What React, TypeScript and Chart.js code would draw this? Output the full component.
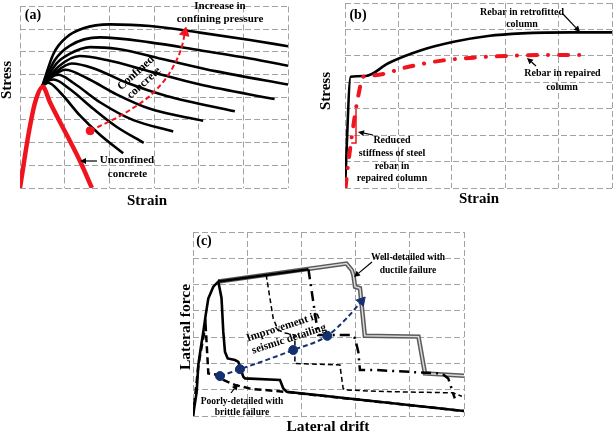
import React, { useEffect, useRef } from "react";
import { Chart, registerables } from "chart.js";
Chart.register(...registerables);

type Pt = [number, number];

// ---------- Panel (a): concrete stress-strain (grid units) ----------
const aUnconfined: Pt[] = [[0, 0], [0.19, 2.36], [0.34, 3.78], [0.51, 4.46], [0.67, 3.78], [1.34, 1.2], [1.61, 0]];
const aConfined1: Pt[] = [[0.5, 4.5], [0.75, 5.92], [1.04, 6.64], [1.42, 7.04], [2.01, 7.21], [2.91, 7.14], [4.03, 6.85], [5.15, 6.52], [6, 6.25]];
const aConfined2: Pt[] = [[0.5, 4.5], [0.78, 5.64], [1.12, 6.28], [1.79, 6.64], [2.91, 6.42], [4.03, 6.07], [5.15, 5.71], [6, 5.39]];
const aConfined3: Pt[] = [[0.5, 4.5], [0.82, 5.49], [1.12, 5.92], [1.57, 6.21], [2.16, 6.14], [3.28, 5.64], [4.4, 5.14], [6, 4.56]];
const aConfined4: Pt[] = [[0.5, 4.5], [0.86, 5.35], [1.34, 5.82], [1.94, 5.64], [2.91, 5.14], [4.03, 4.56], [5.7, 3.92]];
const aConfined5: Pt[] = [[0.5, 4.5], [0.82, 5.14], [1.16, 5.49], [1.64, 5.28], [2.39, 4.64], [3.28, 4.06], [4.81, 3.38]];
const aConfined6: Pt[] = [[0.5, 4.5], [0.78, 4.99], [1.01, 5.21], [1.49, 4.85], [2.16, 4.13], [2.91, 3.49], [4.1, 2.96]];
const aConfined7: Pt[] = [[0.5, 4.5], [0.66, 4.85], [0.86, 4.99], [1.19, 4.64], [1.79, 3.78], [2.54, 2.99], [3.43, 2.49]];
const aConfined8: Pt[] = [[0.5, 4.5], [0.6, 4.7], [0.75, 4.78], [1.12, 4.35], [1.64, 3.49], [2.16, 2.7], [2.77, 1.99]];
const aConfined9: Pt[] = [[0.5, 4.5], [0.63, 4.64], [0.9, 4.21], [1.34, 3.2], [1.79, 2.35], [2.31, 1.53]];
const aArrow: Pt[] = [[1.57, 2.52], [2.39, 3.35], [3.06, 4.35], [3.43, 5.35], [3.64, 6.35], [3.69, 6.85]];

// ---------- Panel (b): rebar stress-strain ----------
const bRetrofitted: Pt[] = [[0, 0], [0.106, 4.21], [0.39, 4.24], [0.81, 4.72], [1.44, 5.22], [2.06, 5.54], [2.68, 5.75], [3.31, 5.85], [4.25, 5.89], [5, 5.89]];
const bRepaired: Pt[] = [[0.01, 0], [0.05, 0.75], [0.206, 3.02], [0.26, 3.6], [0.33, 4.2], [0.56, 4.27], [1.19, 4.59], [1.81, 4.82], [2.47, 4.94], [3.06, 5.0], [3.75, 5.03], [4.4, 5.03]];
const bSlope: Pt[] = [[0.116, 1.7], [0.206, 1.7], [0.206, 3.0]];

// ---------- Panel (c): lateral force vs drift ----------
const cBrittleSolid: Pt[] = [[0, 0], [0.068, 0.92], [0.098, 1.94], [0.142, 2.57], [0.19, 3.2], [0.234, 3.84], [0.282, 4.47], [0.375, 4.92], [0.467, 5.11], [0.526, 4.49], [0.559, 3.2], [0.59, 2.44], [0.64, 2.19], [0.775, 2.13], [0.836, 2.06], [0.928, 1.49], [0.96, 1.43], [1.605, 1.37], [1.666, 1.05], [1.73, 0.92], [5.0, 0.19]];
const cBrittleDashed: Pt[] = [[0, 0], [0.1, 1.94], [0.2, 3.1], [0.234, 3.4], [0.283, 1.62], [0.467, 1.56], [0.56, 1.37], [0.775, 1.18], [1.083, 1.03], [1.7, 0.92], [5.0, 0.19]];
const cDashDot: Pt[] = [[0.467, 5.12], [2.13, 5.58], [2.31, 3.08], [2.93, 3.08], [2.99, 2.95], [3.05, 2.44], [3.08, 1.75], [3.36, 1.75], [4.16, 1.66], [4.59, 1.62], [4.71, 1.43], [4.83, 0.67]];
const cThinDashed: Pt[] = [[1.35, 5.38], [1.42, 4.47], [1.48, 3.71], [1.57, 3.27], [1.7, 3.16], [1.88, 3.08], [1.88, 2.0], [2.71, 1.94], [2.77, 1.05], [2.8, 0.99], [3.54, 0.93], [4.8, 0.88], [4.96, 0.75]];
const cDuctile: Pt[] = [[0.467, 5.12], [2.83, 5.8], [2.93, 5.55], [2.96, 5.36], [2.99, 4.92], [3.08, 4.86], [3.17, 3.05], [4.16, 3.02], [4.28, 1.62], [5.0, 1.53]];
const cImprovement: Pt[] = [[0.498, 1.52], [0.867, 1.78], [1.85, 2.51], [2.478, 3.05], [2.83, 3.71], [3.11, 4.37]];

// ---------- styles ----------
const RED = "#f0141e";
const NAVY = "#14306e";
const GRID = "#a3a3a3";
const FONT = '"Liberation Serif", "Times New Roman", serif';

type Txt = { t: string; x: number; y: number; s: number; r?: number };
type Arr = { x1: number; y1: number; x2: number; y2: number };

const aTexts: Txt[] = [
  { t: "(a)", x: 33, y: 15, s: 14 },
  { t: "Increase in", x: 220, y: 6, s: 11 },
  { t: "confining pressure", x: 220, y: 19.5, s: 11 },
  { t: "Confined", x: 136, y: 73, s: 11.5, r: -42 },
  { t: "concrete", x: 144, y: 83, s: 11.5, r: -42 },
  { t: "Unconfined", x: 127, y: 160, s: 11 },
  { t: "concrete", x: 127.5, y: 174, s: 11 },
  { t: "Stress", x: 7, y: 80, s: 15, r: -90 },
  { t: "Strain", x: 147, y: 201, s: 15 },
];
const aArrows: Arr[] = [{ x1: 97, y1: 161, x2: 80, y2: 161 }];

const bTexts: Txt[] = [
  { t: "(b)", x: 358, y: 15, s: 14 },
  { t: "Rebar in retrofitted", x: 522, y: 12, s: 10 },
  { t: "column", x: 522, y: 24, s: 10 },
  { t: "Rebar in repaired", x: 562.5, y: 73, s: 10 },
  { t: "column", x: 562, y: 87, s: 10 },
  { t: "Reduced", x: 392, y: 140, s: 10 },
  { t: "stiffness of steel", x: 392, y: 153.5, s: 10 },
  { t: "rebar in", x: 392, y: 166, s: 10 },
  { t: "repaired column", x: 392, y: 178.5, s: 10 },
  { t: "Stress", x: 326, y: 91, s: 15, r: -90 },
  { t: "Strain", x: 479, y: 199, s: 15 },
];
const bArrows: Arr[] = [
  { x1: 562, y1: 13, x2: 580, y2: 32 },
  { x1: 536, y1: 66, x2: 527, y2: 58 },
  { x1: 373, y1: 135, x2: 358, y2: 132 },
];

const cTexts: Txt[] = [
  { t: "(c)", x: 204, y: 241.5, s: 14 },
  { t: "Well-detailed with", x: 408, y: 258, s: 9.5 },
  { t: "ductile failure", x: 408, y: 271, s: 9.5 },
  { t: "Improvement in", x: 283, y: 327, s: 11, r: -18 },
  { t: "seismic detailing", x: 289, y: 339, s: 11, r: -18 },
  { t: "Poorly-detailed with", x: 242, y: 402, s: 9.5 },
  { t: "brittle failure", x: 242, y: 413, s: 9.5 },
  { t: "Lateral force", x: 186, y: 327, s: 15.5, r: -90 },
  { t: "Lateral drift", x: 328, y: 427, s: 15.5 },
];
const cArrows: Arr[] = [
  { x1: 372, y1: 262, x2: 354, y2: 277 },
  { x1: 231, y1: 393, x2: 238, y2: 384 },
];

const mk = (pts: Pt[]) => pts.map(([x, y]) => ({ x, y }));

function line(pts: Pt[], color: string, width: number, extra: any = {}) {
  return {
    data: mk(pts),
    borderColor: color,
    backgroundColor: color,
    borderWidth: width,
    pointRadius: 0,
    fill: false,
    tension: 0,
    ...extra,
  };
}

function arrowLine(pts: Pt[], color: string, dotR: number, nDots: number, rot: number, dash: number[]) {
  const last = pts.length - 1;
  return line(pts, color, 2, {
    borderDash: dash,
    cubicInterpolationMode: "monotone",
    pointRadius: (c: any) => (c.dataIndex === last ? 5.5 : c.dataIndex < nDots ? dotR : 0),
    pointStyle: (c: any) => (c.dataIndex === last ? "triangle" : "circle"),
    pointRotation: rot,
    pointBackgroundColor: color,
    pointBorderColor: color,
    pointBorderWidth: 1,
  });
}

function annPlugin(texts: Txt[], arrows: Arr[], ox: number, oy: number) {
  return {
    id: "ann",
    afterDraw(chart: any) {
      const ctx: CanvasRenderingContext2D = chart.ctx;
      ctx.save();
      ctx.fillStyle = "#000";
      ctx.strokeStyle = "#000";
      for (const a of texts) {
        ctx.save();
        ctx.translate(a.x - ox, a.y - oy);
        if (a.r) ctx.rotate((a.r * Math.PI) / 180);
        ctx.font = `bold ${a.s}px ${FONT}`;
        ctx.textAlign = "center";
        ctx.textBaseline = "middle";
        ctx.fillText(a.t, 0, 0);
        ctx.restore();
      }
      for (const a of arrows) {
        const x1 = a.x1 - ox, y1 = a.y1 - oy, x2 = a.x2 - ox, y2 = a.y2 - oy;
        const ang = Math.atan2(y2 - y1, x2 - x1);
        const hl = 6, hw = 3;
        const bx = x2 - Math.cos(ang) * hl, by = y2 - Math.sin(ang) * hl;
        ctx.lineWidth = 1.2;
        ctx.beginPath();
        ctx.moveTo(x1, y1);
        ctx.lineTo(bx, by);
        ctx.stroke();
        ctx.beginPath();
        ctx.moveTo(x2, y2);
        ctx.lineTo(bx - Math.sin(ang) * hw, by + Math.cos(ang) * hw);
        ctx.lineTo(bx + Math.sin(ang) * hw, by - Math.cos(ang) * hw);
        ctx.closePath();
        ctx.fill();
      }
      ctx.restore();
    },
  };
}

type PanelProps = {
  left: number; top: number; width: number; height: number;
  padding: { left: number; right: number; top: number; bottom: number };
  xMax: number; yMax: number; datasets: any[]; texts: Txt[]; arrows: Arr[];
};

function Panel(p: PanelProps) {
  const ref = useRef<HTMLCanvasElement>(null);
  useEffect(() => {
    const axis = (max: number) => ({
      type: "linear" as const,
      min: 0,
      max,
      ticks: { display: false, stepSize: 1 },
      grid: { color: GRID, lineWidth: 1, drawTicks: false },
      border: { display: false, dash: [6, 3] },
    });
    const chart = new Chart(ref.current!, {
      type: "line",
      data: { datasets: p.datasets },
      options: {
        responsive: false,
        animation: false,
        events: [],
        layout: { padding: p.padding },
        plugins: { legend: { display: false }, tooltip: { enabled: false } },
        scales: { x: axis(p.xMax), y: axis(p.yMax) },
      },
      plugins: [annPlugin(p.texts, p.arrows, p.left, p.top)],
    } as any);
    return () => chart.destroy();
  }, []);
  return (
    <canvas
      ref={ref}
      width={p.width}
      height={p.height}
      style={{ position: "absolute", left: p.left, top: p.top, width: p.width, height: p.height }}
    />
  );
}

export default function App() {
  const aSets = [
    arrowLine(aArrow, RED, 4, 1, 12, [5, 3]),
    line(aUnconfined, RED, 4.5, { cubicInterpolationMode: "monotone" }),
    ...[aConfined1, aConfined2, aConfined3, aConfined4, aConfined5, aConfined6, aConfined7, aConfined8, aConfined9].map((c) =>
      line(c, "#000", 2.6, { cubicInterpolationMode: "monotone" })
    ),
  ];
  const bSets = [
    line(bSlope, RED, 1.5),
    line(bRepaired, RED, 4, { cubicInterpolationMode: "monotone", borderDash: [9, 11, 0.1, 11], borderCapStyle: "round" }),
    line(bRetrofitted, "#000", 2.6, { cubicInterpolationMode: "monotone" }),
  ];
  const cSets = [
    arrowLine(cImprovement, NAVY, 4.5, 4, 41, [5, 3]),
    line(cBrittleSolid, "#000", 2.6),
    line(cBrittleDashed, "#000", 2.5, { borderDash: [7, 4] }),
    line(cDashDot, "#000", 2.5, {
      borderDash: [10, 5, 2, 5],
      segment: { borderDash: (s: any) => (s.p0DataIndex === 0 ? [] : [10, 5, 2, 5]) },
    }),
    line(cThinDashed, "#000", 1.5, { borderDash: [5, 3] }),
    line(cDuctile, "#dcdcdc", 1.5),
    line(cDuctile, "#5a5a5a", 4.5),
  ];
  return (
    <div style={{ position: "fixed", left: 0, top: 0, width: 615, height: 433, background: "#fff" }}>
      <Panel left={0} top={0} width={305} height={215} padding={{ left: 20, right: 17, top: 2, bottom: 27 }}
        xMax={6} yMax={8} datasets={aSets} texts={aTexts} arrows={aArrows} />
      <Panel left={305} top={0} width={310} height={215} padding={{ left: 40, right: 3, top: 3, bottom: 27 }}
        xMax={5} yMax={7} datasets={bSets} texts={bTexts} arrows={bArrows} />
      <Panel left={170} top={215} width={310} height={218} padding={{ left: 23, right: 16, top: 17, bottom: 17 }}
        xMax={5} yMax={7} datasets={cSets} texts={cTexts} arrows={cArrows} />
    </div>
  );
}
